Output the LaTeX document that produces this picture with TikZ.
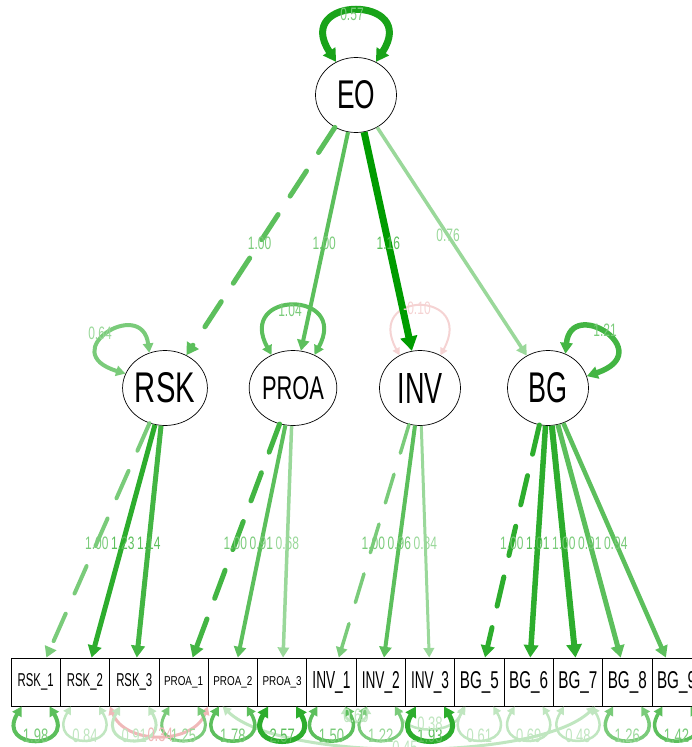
\documentclass[tikz,border=0pt]{standalone}
\usepackage{fontspec}
\setmainfont{Liberation Sans}
\usetikzlibrary{arrows.meta,shapes.geometric,calc}

% edge palette (strong to weak positive, then negative)
\definecolor{gA}{HTML}{009C00}
\definecolor{gL}{HTML}{19A319}
\definecolor{gB}{HTML}{2DAD2D}
\definecolor{gC}{HTML}{43B543}
\definecolor{gD}{HTML}{5CBF5C}
\definecolor{gE}{HTML}{7ACB7A}
\definecolor{gF}{HTML}{9AD89A}
\definecolor{gG}{HTML}{C0E6C0}
\definecolor{pkA}{HTML}{F0B8B8}
\definecolor{pkB}{HTML}{F5D3D3}

% tall, narrow edge labels
\newcommand\elab[1]{\scalebox{1}[1.5]{\fontsize{12pt}{12pt}\selectfont #1}}
\newcommand\rlab[1]{\scalebox{1}[1.5]{\fontsize{13pt}{13pt}\selectfont #1}}

\tikzset{
  lat/.style={ellipse,draw=black,line width=0.7pt,fill=white,
    minimum width=81pt,minimum height=75pt,inner sep=0pt},
  obs/.style={rectangle,draw=black,line width=0.8pt,fill=white,
    minimum width=49.3pt,minimum height=48pt,inner sep=0pt},
  hd/.style={-{Triangle[length=6pt 1.2,width=6pt 1.5]}},
  hh/.style={{Triangle[length=5pt 1.1,width=5pt 1.3]}-{Triangle[length=5pt 1.1,width=5pt 1.3]}},
  dsh/.style={dash pattern=on 30pt off 22pt,line cap=round},
  lab/.style={inner sep=0pt},
}

\begin{document}
\begin{tikzpicture}[x=1pt,y=-1pt]
\path[use as bounding box] (0,0) rectangle (692,747);
\clip (0,0) rectangle (692,747);

% ---------- nodes ----------
\node[lat] (EO)   at (356,95)  {\resizebox{38pt}{28pt}{EO}};
\node[lat] (RSK)  at (165,388) {\resizebox{60pt}{30pt}{RSK}};
\node[lat] (PROA) at (293,388) {\resizebox{62pt}{23pt}{PROA}};
\node[lat] (INV)  at (420,388) {\resizebox{45pt}{30pt}{INV}};
\node[lat] (BG)   at (548,388) {\resizebox{39pt}{30pt}{BG}};

\node[obs] (rsk1)  at (35.65,682)  {\resizebox{36pt}{13pt}{RSK\_1}};
\node[obs] (rsk2)  at (84.95,682)  {\resizebox{36pt}{13pt}{RSK\_2}};
\node[obs] (rsk3)  at (134.25,682) {\resizebox{36pt}{13pt}{RSK\_3}};
\node[obs] (proa1) at (183.55,682) {\resizebox{39pt}{9pt}{PROA\_1}};
\node[obs] (proa2) at (232.85,682) {\resizebox{39pt}{9pt}{PROA\_2}};
\node[obs] (proa3) at (282.15,682) {\resizebox{39pt}{9pt}{PROA\_3}};
\node[obs] (inv1)  at (331.45,682) {\resizebox{38pt}{17pt}{INV\_1}};
\node[obs] (inv2)  at (380.75,682) {\resizebox{38pt}{17pt}{INV\_2}};
\node[obs] (inv3)  at (430.05,682) {\resizebox{38pt}{17pt}{INV\_3}};
\node[obs] (bg5)   at (479.35,682) {\resizebox{39pt}{17pt}{BG\_5}};
\node[obs] (bg6)   at (528.65,682) {\resizebox{39pt}{17pt}{BG\_6}};
\node[obs] (bg7)   at (577.95,682) {\resizebox{39pt}{17pt}{BG\_7}};
\node[obs] (bg8)   at (627.25,682) {\resizebox{39pt}{17pt}{BG\_8}};
\node[obs] (bg9)   at (676.55,682) {\resizebox{39pt}{17pt}{BG\_9}};

% ---------- variance loops on latents ----------
\draw[hh,draw=pkB,line width=2pt] (INV.122) .. controls (364,290) and (476,290) .. (INV.58);
\draw[hh,draw=gL,line width=7pt] (EO.121) .. controls (292,-5) and (420,-5) .. (EO.59);
\draw[hh,draw=gE,line width=4pt] (RSK.114) .. controls (142,296) and (54,352) .. (RSK.160);
\draw[hh,draw=gD,line width=4pt] (PROA.123) .. controls (236,290) and (350,290) .. (PROA.57);
\draw[hh,draw=gC,line width=5.5pt] (BG.63) .. controls (571,296) and (659,352) .. (BG.17);

% ---------- residual covariances ----------
\draw[hh,draw=pkA,line width=3pt] ($(rsk2.south)+(25,0)$) .. controls (125,745) and (193,745) .. ($(proa2.south)+(-25,0)$);
\draw[hh,draw=gG,line width=3pt] ($(proa1.south)+(39,0)$) .. controls (280,762) and (537,762) .. ($(bg8.south)+(-32,0)$);
\draw[hh,draw=gG,line width=2.5pt] ($(inv1.south)+(14,0)$) .. controls (345,725) and (367,725) .. ($(inv2.south)+(-14,0)$);
\draw[hh,draw=gG,line width=2.5pt] ($(inv2.south)+(16,0)$) .. controls (405,735) and (454,735) .. ($(bg5.south)+(-16,0)$);

% ---------- residual variances ----------
\foreach \n/\c/\w in {rsk1/gD/4, rsk2/gG/2.5, rsk3/gG/3, proa1/gE/3, proa2/gD/3.5,
    proa3/gB/5, inv1/gD/3.5, inv2/gE/3, inv3/gB/5, bg5/gG/2.5, bg6/gG/2.5,
    bg7/gG/2.5, bg8/gE/3.5, bg9/gD/3.5} {
  \draw[hh,draw=\c,line width=\w pt] ($(\n.south)+(-14,0)$)
     .. controls ($(\n.south)+(-40,44)$) and ($(\n.south)+(40,44)$) .. ($(\n.south)+(14,0)$);
}

% ---------- structural paths ----------
\draw[hd,dsh,draw=gD,line width=5pt] (EO) -- (RSK);
\draw[hd,draw=gD,line width=4pt] (EO) -- (PROA);
\draw[hd,draw=gA,line width=7pt] (EO) -- (INV);
\draw[hd,draw=gF,line width=3.5pt] (EO) -- (BG);

% ---------- loadings ----------
\draw[hd,dsh,draw=gE,line width=4pt] (RSK) -- (rsk1);
\draw[hd,draw=gB,line width=5pt] (RSK) -- (rsk2);
\draw[hd,draw=gC,line width=5pt] (RSK) -- (rsk3);
\draw[hd,dsh,draw=gC,line width=5pt] (PROA) -- (proa1);
\draw[hd,draw=gD,line width=4pt] (PROA) -- (proa2);
\draw[hd,draw=gF,line width=3.5pt] (PROA) -- (proa3);
\draw[hd,dsh,draw=gE,line width=3.5pt] (INV) -- (inv1);
\draw[hd,draw=gD,line width=4pt] (INV) -- (inv2);
\draw[hd,draw=gF,line width=3pt] (INV) -- (inv3);
\draw[hd,dsh,draw=gB,line width=5pt] (BG) -- (bg5);
\draw[hd,draw=gB,line width=5.5pt] (BG) -- (bg6);
\draw[hd,draw=gB,line width=6pt] (BG) -- (bg7);
\draw[hd,draw=gD,line width=5pt] (BG) -- (bg8);
\draw[hd,draw=gD,line width=4.5pt] (BG) -- (bg9);

% ---------- labels ----------
\node[lab,text=gE] at ($(EO)!0.505!(RSK)$)  {\elab{1.00}};
\node[lab,text=gE] at ($(EO)!0.505!(PROA)$) {\elab{1.00}};
\node[lab,text=gD] at ($(EO)!0.505!(INV)$)  {\elab{1.16}};
\node[lab,text=gF] at ($(EO)!0.48!(BG)$)    {\elab{0.76}};

\node[lab,text=gE] at (352,14)  {\elab{0.57}};
\node[lab,text=gF] at (100,333) {\elab{0.64}};
\node[lab,text=gE] at (290,310) {\elab{1.04}};
\node[lab,text=pkB] at (417,308) {\elab{-0.10}};
\node[lab,text=gE] at (605,330) {\elab{1.21}};

\foreach \l/\n/\c/\t in {RSK/rsk1/gE/1.00, RSK/rsk2/gD/1.23, RSK/rsk3/gD/1.14,
    PROA/proa1/gE/1.00, PROA/proa2/gE/0.91, PROA/proa3/gF/0.68,
    INV/inv1/gE/1.00, INV/inv2/gE/0.96, INV/inv3/gF/0.84,
    BG/bg5/gE/1.00, BG/bg6/gD/1.01, BG/bg7/gE/1.00, BG/bg8/gE/0.91, BG/bg9/gE/0.94} {
  \node[lab,text=\c] at ($(\l)!0.527!(\n)$) {\elab{\t}};
}

\foreach \n/\c/\t in {rsk1/gE/1.98, rsk2/gG/0.84, rsk3/gG/0.91, proa1/gF/1.25,
    proa2/gE/1.78, proa3/gD/2.57, inv1/gE/1.50, inv2/gF/1.22, inv3/gD/1.93,
    bg5/gG/0.61, bg6/gG/0.69, bg7/gG/0.48, bg8/gF/1.26, bg9/gE/1.42} {
  \node[lab,text=\c] at ($(\n.south)+(0,29)$) {\rlab{\t}};
}

\node[lab,text=pkA] at (158,735) {\rlab{-0.34}};
\node[lab,text=gG] at (356,716) {\rlab{0.60}};
\node[lab,text=gG] at (430,724) {\rlab{0.38}};
\node[lab,text=gG] at (405,748) {\rlab{0.45}};
\end{tikzpicture}
\end{document}
